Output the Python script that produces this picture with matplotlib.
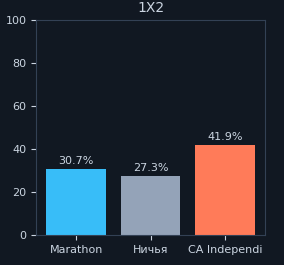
import matplotlib
matplotlib.use("Agg")
import matplotlib.pyplot as plt

categories = ["Marathon", "Ничья", "CA Independi"]
values = [30.7, 27.3, 41.9]
colors = ["#38bdf8", "#94a3b8", "#ff7b59"]

bg = "#111822"
fg = "#cbd5e1"
grid = "#334155"

fig, ax = plt.subplots(figsize=(2.84, 2.65), dpi=100)
fig.patch.set_facecolor(bg)
ax.set_facecolor(bg)

bars = ax.bar(categories, values, color=colors, width=0.8)
for b, v in zip(bars, values):
    ax.text(b.get_x() + b.get_width() / 2, v + 1.5, f"{v}%",
            ha="center", va="bottom", color=fg, fontsize=8)

ax.set_ylim(0, 100)
ax.set_title("1X2", color=fg, fontsize=10)
for s in ax.spines.values():
    s.set_color(grid)
ax.tick_params(colors=fg, labelsize=8)

fig.subplots_adjust(left=0.127, right=0.933, top=0.925, bottom=0.113)
fig.savefig("out.png", dpi=100, facecolor=bg)
